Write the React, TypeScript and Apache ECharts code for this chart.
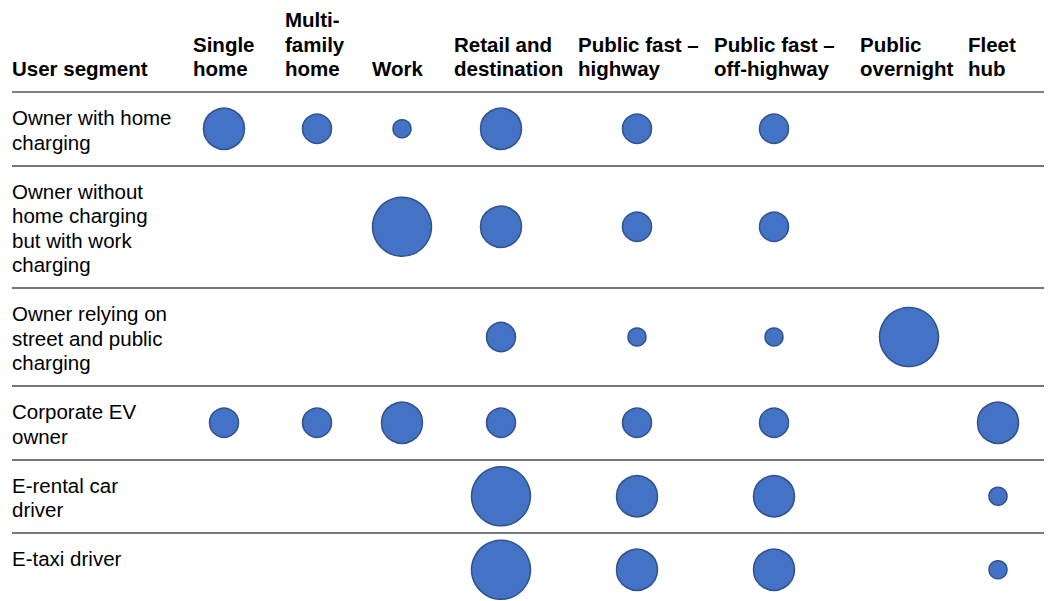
import React, { useEffect, useRef } from "react";
import * as echarts from "echarts";

// ---- data ----
const columns = [
  "Single\nhome",
  "Multi-\nfamily\nhome",
  "Work",
  "Retail and\ndestination",
  "Public fast –\nhighway",
  "Public fast –\noff-highway",
  "Public\novernight",
  "Fleet\nhub",
];
const segments = [
  "Owner with home\ncharging",
  "Owner without\nhome charging\nbut with work\ncharging",
  "Owner relying on\nstreet and public\ncharging",
  "Corporate EV\nowner",
  "E-rental car\ndriver",
  "E-taxi driver",
];
const headerTitle = "User segment";
// relevance level per segment (0 = none, 1 small ... 4 very large)
const ownerWithHome = [3, 2, 1, 3, 2, 2, 0, 0];
const ownerWorkCharging = [0, 0, 4, 3, 2, 2, 0, 0];
const ownerStreetPublic = [0, 0, 0, 2, 1, 1, 4, 0];
const corporateOwner = [2, 2, 3, 2, 2, 2, 0, 3];
const eRentalDriver = [0, 0, 0, 4, 3, 3, 0, 1];
const eTaxiDriver = [0, 0, 0, 4, 3, 3, 0, 1];
const levels = [ownerWithHome, ownerWorkCharging, ownerStreetPublic, corporateOwner, eRentalDriver, eTaxiDriver];

// ---- layout (table geometry, px) ----
const COL_CENTER = [224, 317, 402, 501, 637, 774, 909, 998];
const HEADER_LEFT = [193, 285, 372, 454, 578, 714, 860, 968];
const LEVEL_SIZE = [0, 18, 29, 41, 59];
const LINE_H = 24.5;
const MIN_LINES = 2;
const HEADER_LINE_Y = 92;
const TABLE_LEFT = 12;
const TABLE_RIGHT = 1044;
const W = 1053;
const H = 601;
const FONT = "'Liberation Sans', Arial, Helvetica, sans-serif";
const FS = 20.5;

export default function App() {
  const ref = useRef<HTMLDivElement>(null);
  useEffect(() => {
    if (!ref.current) return;
    const chart = echarts.init(ref.current, null, { renderer: "svg" });

    // row geometry from label line counts
    const rowTops: number[] = [];
    let y = HEADER_LINE_Y;
    segments.forEach((s) => {
      rowTops.push(y);
      const n = Math.max(MIN_LINES, s.split("\n").length);
      y += LINE_H * n + LINE_H;
    });
    const rowBottoms = rowTops.map((t, i) => (i + 1 < rowTops.length ? rowTops[i + 1] : y));
    const rowMid = rowTops.map((t, i) => (t + rowBottoms[i]) / 2);

    const points: number[][] = [];
    levels.forEach((row, r) =>
      row.forEach((lv, c) => {
        if (lv > 0) points.push([COL_CENTER[c], rowMid[r], lv]);
      })
    );

    const textStyle = (x: number, yy: number, text: string, bold: boolean, va: string) => ({
      type: "text",
      silent: true,
      style: {
        x,
        y: yy,
        text,
        fontFamily: FONT,
        fontSize: FS,
        fontWeight: bold ? "bold" : "normal",
        lineHeight: LINE_H,
        fill: "#000",
        verticalAlign: va,
        align: "left",
      },
    });

    const graphics: any[] = [];
    graphics.push(textStyle(TABLE_LEFT, 80.9, headerTitle, true, "bottom"));
    columns.forEach((c, i) => graphics.push(textStyle(HEADER_LEFT[i], 80.9, c, true, "bottom")));
    segments.forEach((s, i) => graphics.push(textStyle(TABLE_LEFT, rowTops[i] + 13.5, s, false, "top")));

    const lines: any[] = [
      { yAxis: HEADER_LINE_Y, lineStyle: { type: "solid", color: "#808080", width: 2.2 } },
    ];
    rowBottoms.slice(0, -1).forEach((b, i) => {
      const last = i === rowBottoms.length - 2;
      lines.push({
        yAxis: b,
        lineStyle: { type: "solid", color: last ? "#7a7a7a" : "#4a4a4a", width: last ? 2 : 1.5 },
      });
    });

    chart.setOption({
      animation: false,
      backgroundColor: "#fff",
      grid: { left: TABLE_LEFT, right: W - TABLE_RIGHT, top: 0, bottom: 0 },
      xAxis: { type: "value", min: TABLE_LEFT, max: TABLE_RIGHT, show: false },
      yAxis: { type: "value", min: 0, max: H, inverse: true, show: false },
      graphic: graphics,
      series: [
        {
          type: "scatter",
          data: points,
          symbol: "circle",
          symbolSize: (v: number[]) => LEVEL_SIZE[v[2]],
          itemStyle: { color: "#4472C4", borderColor: "#2F528F", borderWidth: 1.5, opacity: 1 },
          emphasis: { disabled: true },
          silent: true,
          markLine: {
            silent: true,
            symbol: "none",
            label: { show: false },
            lineStyle: { type: "solid" },
            data: lines,
          },
        },
      ],
    });
    return () => chart.dispose();
  }, []);
  return (
    <div
      ref={ref}
      style={{ position: "absolute", left: 0, top: 0, width: W, height: H, background: "#fff" }}
    />
  );
}
